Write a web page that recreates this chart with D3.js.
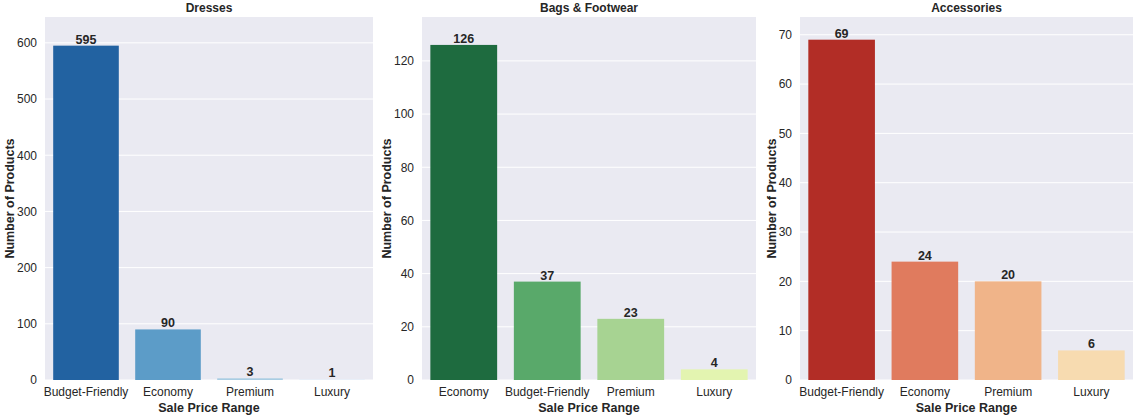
<!DOCTYPE html>
<html><head><meta charset="utf-8">
<script src="https://cdn.jsdelivr.net/npm/d3@7"></script>
<style>body{margin:0;background:#fff;font-family:Arial,"Liberation Sans",sans-serif}</style>
</head><body><svg id="c" width="1140" height="420"></svg>
<script>
var dressCats = ["Budget-Friendly", "Economy", "Premium", "Luxury"];
var dressVals = [595, 90, 3, 1];
var bagCats = ["Economy", "Budget-Friendly", "Premium", "Luxury"];
var bagVals = [126, 37, 23, 4];
var accCats = ["Budget-Friendly", "Economy", "Premium", "Luxury"];
var accVals = [69, 24, 20, 6];

var panels = [
  {title: "Dresses", cats: dressCats, vals: dressVals, x0: 45, x1: 373, max: 646, ticks: [0,100,200,300,400,500,600],
   colors: ["#2262a1", "#5c9cc8", "#a9cde3", "#e0ecf8"]},
  {title: "Bags & Footwear", cats: bagCats, vals: bagVals, x0: 422, x1: 756, max: 136.5, ticks: [0,20,40,60,80,100,120],
   colors: ["#1e6b3f", "#59a96a", "#a7d392", "#e3f4b0"]},
  {title: "Accessories", cats: accCats, vals: accVals, x0: 800, x1: 1133, max: 73.6, ticks: [0,10,20,30,40,50,60,70],
   colors: ["#b22d26", "#e07b5e", "#f0b489", "#f7dbb0"]}
];

var svg = d3.select("#c");
var plotTop = 17, plotBottom = 380;

panels.forEach(function(p) {
  var x = d3.scaleBand().domain(p.cats).range([p.x0, p.x1]).paddingInner(0.2).paddingOuter(0.1);
  var y = d3.scaleLinear().domain([0, p.max]).range([plotBottom, plotTop]);
  var g = svg.append("g");
  g.append("rect").attr("x", p.x0).attr("y", plotTop).attr("width", p.x1 - p.x0).attr("height", plotBottom - plotTop).attr("fill", "#eaeaf2");
  g.selectAll("line.grid").data(p.ticks).enter().append("line")
    .attr("x1", p.x0).attr("x2", p.x1).attr("y1", d => y(d)).attr("y2", d => y(d))
    .attr("stroke", "#fff").attr("stroke-width", 1);
  g.selectAll("rect.bar").data(p.vals).enter().append("rect")
    .attr("x", (d, i) => x(p.cats[i])).attr("width", x.bandwidth())
    .attr("y", d => y(d)).attr("height", d => plotBottom - y(d))
    .attr("fill", (d, i) => p.colors[i]);
  g.selectAll("text.val").data(p.vals).enter().append("text")
    .attr("x", (d, i) => x(p.cats[i]) + x.bandwidth() / 2).attr("y", d => y(d) - 2)
    .attr("text-anchor", "middle").attr("font-size", 12.5).attr("font-weight", "bold").attr("fill", "#262626")
    .text(d => d);
  var ya = g.append("g").attr("transform", "translate(" + p.x0 + ",0)")
    .call(d3.axisLeft(y).tickValues(p.ticks).tickSize(0).tickPadding(8));
  ya.select(".domain").remove();
  var xa = g.append("g").attr("transform", "translate(0," + plotBottom + ")")
    .call(d3.axisBottom(x).tickSize(0).tickPadding(7));
  xa.select(".domain").remove();
  g.selectAll(".tick text").attr("font-size", 12).attr("fill", "#262626").attr("font-family", "Arial, Liberation Sans, sans-serif");
  g.append("text").attr("x", (p.x0 + p.x1) / 2).attr("y", 12).attr("text-anchor", "middle")
    .attr("font-size", 12).attr("font-weight", "bold").attr("fill", "#262626").text(p.title);
  g.append("text").attr("x", (p.x0 + p.x1) / 2).attr("y", 412).attr("text-anchor", "middle")
    .attr("font-size", 12.5).attr("font-weight", "bold").attr("fill", "#262626").text("Sale Price Range");
  var yLabelX = p.x0 - (p.ticks[p.ticks.length - 1] >= 100 ? 31 : 24);
  g.append("text").attr("transform", "translate(" + yLabelX + "," + ((plotTop + plotBottom) / 2) + ") rotate(-90)")
    .attr("text-anchor", "middle").attr("font-size", 12.5).attr("font-weight", "bold").attr("fill", "#262626")
    .text("Number of Products");
});
</script></body></html>
